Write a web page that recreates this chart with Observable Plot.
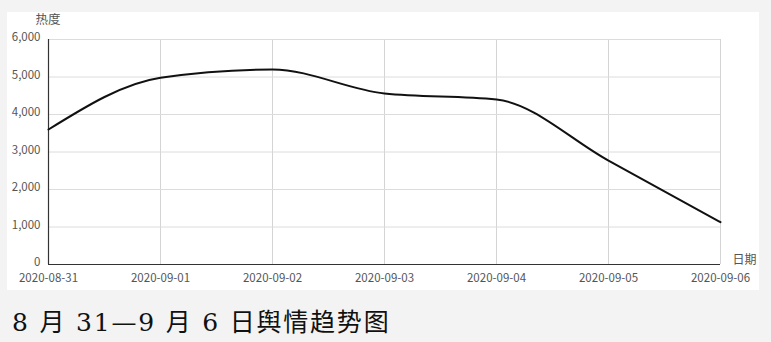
<!DOCTYPE html>
<html><head><meta charset="utf-8">
<script src="https://cdn.jsdelivr.net/npm/d3@7"></script>
<script src="https://cdn.jsdelivr.net/npm/@observablehq/plot@0.6"></script>
<style>
html,body{margin:0;padding:0;background:#f3f3f3;}
#wrap{position:absolute;left:7px;top:12px;width:752px;height:278px;background:#fff;}
#wrap svg{overflow:visible;}
#cap{position:absolute;left:12px;top:302px;font-family:"DejaVu Serif","Noto Sans CJK SC",serif;font-size:25px;color:#111;white-space:pre;letter-spacing:1.8px;}
</style></head>
<body>
<div id="wrap"></div>
<div id="cap"></div>
<script>
const dates = ["2020-08-31","2020-09-01","2020-09-02","2020-09-03","2020-09-04","2020-09-05","2020-09-06"];
const heat = [3600, 4980, 5200, 4560, 4400, 2770, 1130];
const yTicks = [0,1000,2000,3000,4000,5000,6000];
const yLabel = "热度";
const xLabel = "日期";
const title = "8 月 31—9 月 6 日舆情趋势图";

const data = dates.map((d,i)=>({date:d, value:heat[i]}));
const font = "'Noto Sans CJK SC', sans-serif";
const chart = Plot.plot({
  width: 752, height: 278,
  marginLeft: 41, marginRight: 39, marginTop: 27, marginBottom: 26,
  style: {background:"#fff", fontFamily: font, fontSize:"11.5px", color:"#555", overflow:"visible"},
  x: {type:"point", domain: dates, padding:0, label:null},
  y: {domain:[0,6000], label:null},
  marks: [
    Plot.gridX(dates, {stroke:"#d4d4d4", strokeOpacity:1}),
    Plot.gridY(yTicks, {stroke:"#dcdcdc", strokeOpacity:1}),
    Plot.axisX(dates, {tickSize:0, tickPadding:9, fill:"#555", fontSize:11.5}),
    Plot.axisY(yTicks, {tickSize:0, tickPadding:8, tickFormat:d3.format(","), fill:"#555", fontSize:11.5, dy:-2}),
    Plot.ruleX([dates[0]], {stroke:"#333", strokeWidth:1.2}),
    Plot.ruleY([0], {stroke:"#333", strokeWidth:1.2}),
    Plot.line(data, {x:"date", y:"value", curve:"monotone-x", stroke:"#111", strokeWidth:2}),
    Plot.text([yLabel], {frameAnchor:"top-left", textAnchor:"start", lineAnchor:"middle", dx:-13, dy:-20, fill:"#555", fontSize:12.5}),
    Plot.text([xLabel], {frameAnchor:"bottom-right", textAnchor:"start", lineAnchor:"middle", dx:12, dy:-4, fill:"#555", fontSize:12})
  ]
});
document.getElementById("wrap").appendChild(chart);
document.getElementById("cap").textContent = title;
</script>
</body></html>
